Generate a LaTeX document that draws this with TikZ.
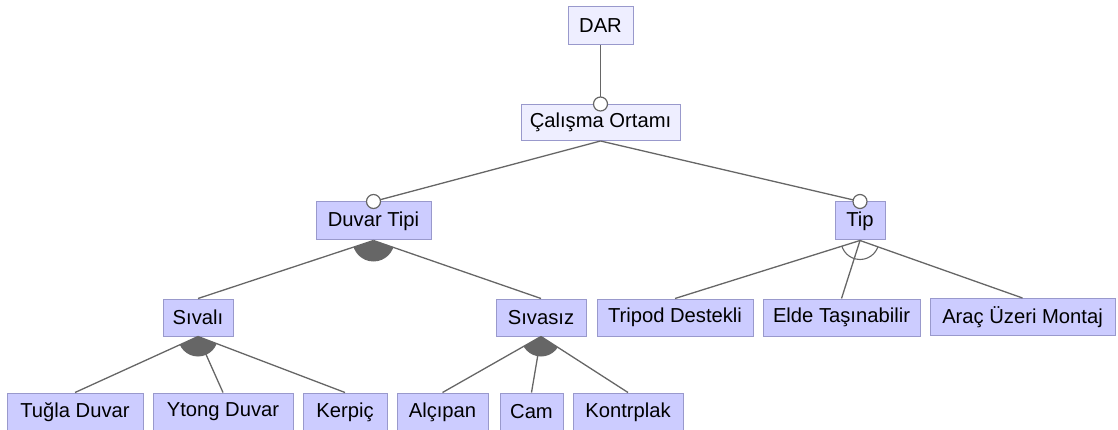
\documentclass[tikz,border=0pt]{standalone}
\usepackage{fontspec}
\setmainfont{Liberation Sans}
\definecolor{boxfill}{HTML}{CCCCFF}
\definecolor{rootfill}{HTML}{EEEEFF}
\definecolor{boxline}{HTML}{9999CC}
\definecolor{edgegray}{HTML}{666666}
\begin{document}
\begin{tikzpicture}[x=1pt,y=-1pt,
  feat/.style={draw=boxline, fill=boxfill, line width=1pt, inner sep=0pt,
    minimum height=37pt, font=\fontsize{20.2}{23}\selectfont, anchor=center},
  rootfeat/.style={feat, fill=rootfill},
  edge/.style={draw=edgegray, line width=1.3pt},
  optmark/.style={draw=edgegray, fill=white, line width=1.2pt},
  groupfill/.style={fill=edgegray},
  grouparc/.style={draw=edgegray, line width=1.1pt}]
\useasboundingbox (0,0) rectangle (1118,430);

% features
\node[rootfeat, minimum width=65pt, minimum height=38pt] (dar) at (600.5,26) {DAR};
\node[rootfeat, minimum width=159pt, minimum height=36pt] (calisma) at (600.5,122.5) {Çalışma Ortamı};
\node[feat, minimum width=115pt, minimum height=38pt] (duvar) at (373.5,221) {Duvar Tipi};
\node[feat, minimum width=50pt, minimum height=38pt] (tip) at (860,221) {Tip};
\node[feat, minimum width=70pt] (sivali) at (198,317.5) {Sıvalı};
\node[feat, minimum width=90pt] (sivasiz) at (541,317.5) {Sıvasız};
\node[feat, minimum width=156pt] (tripod) at (675,317.5) {Tripod Destekli};
\node[feat, minimum width=157pt] (elde) at (841.5,317.5) {Elde Taşınabilir};
\node[feat, minimum width=185pt] (arac) at (1022.5,317) {Araç Üzeri Montaj};
\node[feat, minimum width=136pt, minimum height=38pt] (tugla) at (75,412) {Tuğla Duvar};
\node[feat, minimum width=140pt, minimum height=38pt] (ytong) at (223,412) {Ytong Duvar};
\node[feat, minimum width=84pt, minimum height=38pt] (kerpic) at (345,412) {Kerpiç};
\node[feat, minimum width=91pt, minimum height=38pt] (alcipan) at (442.5,412) {Alçıpan};
\node[feat, minimum width=63pt, minimum height=38pt] (cam) at (531.5,412) {Cam};
\node[feat, minimum width=110pt, minimum height=38pt] (kontrplak) at (628,412) {Kontrplak};

% optional children
\draw[edge] (dar.south) -- (calisma.north);
\draw[edge] (calisma.south) -- (duvar.north);
\draw[edge] (calisma.south) -- (tip.north);

% group children
\foreach \p/\c in {duvar/sivali, duvar/sivasiz,
                   tip/tripod, tip/elde, tip/arac,
                   sivali/tugla, sivali/ytong, sivali/kerpic,
                   sivasiz/alcipan, sivasiz/cam, sivasiz/kontrplak}
  \draw[edge] (\p.south) -- (\c.north);

% optional markers
\foreach \n in {calisma, duvar, tip}
  \draw[optmark] (\n.north) circle (7);

% or-groups (filled sectors)
\begin{scope}
  \clip (duvar.south) -- (sivali.north) -- (sivasiz.north) -- cycle;
  \fill[groupfill] (duvar.south) circle (21);
\end{scope}
\begin{scope}
  \clip (sivali.south) -- (tugla.north) -- (kerpic.north) -- cycle;
  \fill[groupfill] (sivali.south) circle (20);
\end{scope}
\begin{scope}
  \clip (sivasiz.south) -- (alcipan.north) -- (kontrplak.north) -- cycle;
  \fill[groupfill] (sivasiz.south) circle (20);
\end{scope}

% alternative group (open arc)
\begin{scope}
  \clip (tip.south) -- (tripod.north) -- (arac.north) -- cycle;
  \draw[grouparc] (tip.south) circle (19);
\end{scope}
\end{tikzpicture}
\end{document}
